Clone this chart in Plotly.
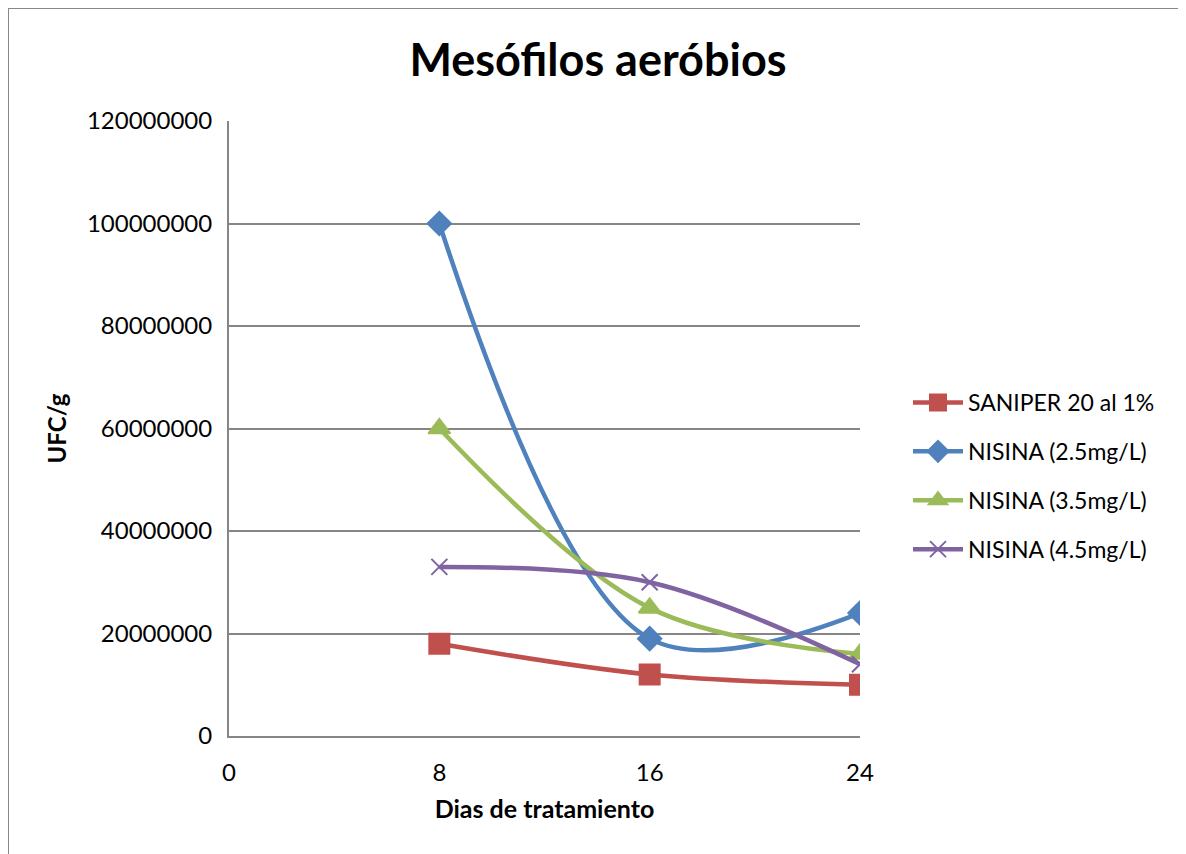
import plotly.graph_objects as go

dias = [8, 16, 24]
saniper = [18000000, 12000000, 10000000]
nisina_25 = [100000000, 19000000, 24000000]
nisina_35 = [60000000, 25000000, 16000000]
nisina_45 = [33000000, 30000000, 14000000]

series = [
    ("SANIPER 20 al 1%", saniper, "#C0504D", "square", 20),
    ("NISINA (2.5mg/L)", nisina_25, "#4F81BD", "diamond", 18),
    ("NISINA (3.5mg/L)", nisina_35, "#9BBB59", "triangle-up", 19),
    ("NISINA (4.5mg/L)", nisina_45, "#8064A2", "x-thin", 16),
]

fig = go.Figure()
for i, (name, vals, color, sym, size) in enumerate(series):
    fig.add_trace(go.Scatter(
        x=dias, y=vals, name=name, mode="lines+markers", legendgroup=f"g{i}",
        line=dict(color=color, width=4.5, shape="spline", smoothing=1),
        marker=dict(symbol=sym, size=size, color=color,
                    line=dict(color=color, width=2)),
    ))

OFF = 8  # page body margin
W, H = 1186 - OFF, 854 - OFF
L, R, T, B = 229 - OFF, 860 - OFF, 121 - OFF, 736 - OFF
pw, ph = R - L, B - T

def px(x):
    return (x - OFF - L) / pw

def py(y):
    return (B - (y - OFF)) / ph

font = "Lato, 'Open Sans', sans-serif"

fig.update_layout(
    width=W, height=H,
    margin=dict(l=L, r=W - R, t=T, b=H - B, pad=0),
    paper_bgcolor="white", plot_bgcolor="white",
    font=dict(family=font, color="black", size=24),
    title=dict(text="<b>Mesófilos aeróbios</b>", x=(598 - OFF) / W, xref="container",
               xanchor="center", y=(H - (60 - OFF)) / H, yanchor="middle",
               font=dict(size=45, family=font, color="black")),
    xaxis=dict(range=[0, 24], tickvals=[0, 8, 16, 24], showgrid=False,
               showline=True, linecolor="#868686", linewidth=2,
               ticks="", ticklabelstandoff=14, zeroline=False,
               tickfont=dict(size=24),
               title=dict(text="<b>Dias de tratamiento</b>", standoff=16,
                          font=dict(size=25))),
    yaxis=dict(range=[0, 120000000], tickvals=[0, 20000000, 40000000, 60000000,
                                                80000000, 100000000, 120000000],
               tickformat="d", showgrid=True, gridcolor="#868686", gridwidth=1.5,
               showline=True, linecolor="#868686", linewidth=2,
               ticks="", ticklabelstandoff=10, zeroline=False,
               tickfont=dict(size=24),
               title=dict(text="<b>UFC/g</b>", standoff=14,
                          font=dict(size=24))),
    legend=dict(x=px(908), xanchor="left", y=py(476), yanchor="middle",
                font=dict(size=23), itemwidth=50, tracegroupgap=16,
                bgcolor="rgba(0,0,0,0)"),
    showlegend=True,
)

fig.add_shape(type="line", xref="paper", yref="paper",
              x0=px(8), x1=px(8), y0=py(900), y1=py(8),
              line=dict(color="#888888", width=2))
fig.add_shape(type="line", xref="paper", yref="paper",
              x0=px(8), x1=px(1300), y0=py(8), y1=py(8),
              line=dict(color="#888888", width=2))

fig.write_html("out.html")
